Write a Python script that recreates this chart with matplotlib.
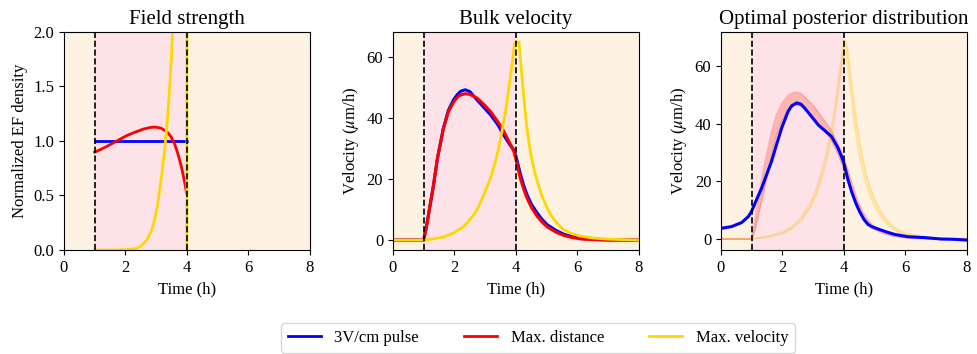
import matplotlib
matplotlib.use("Agg")
import matplotlib.pyplot as plt
from matplotlib.lines import Line2D

plt.rcParams['font.family'] = ['Liberation Serif', 'DejaVu Serif']
plt.rcParams['mathtext.fontset'] = 'stix'

# ---------------- data ----------------
titles = ["Field strength", "Bulk velocity", "Optimal posterior distribution"]
legend_labels = ["3V/cm pulse", "Max. distance", "Max. velocity"]
xticks = [0, 2, 4, 6, 8]
pulse_start, pulse_end = 1.0, 4.0

# Panel 1: normalized field
field_pulse_t = [1.0, 4.0]
field_pulse_v = [1.0, 1.0]
field_dist_t = [1.0, 1.25, 1.49, 1.75, 2.03, 2.3, 2.58, 2.8, 2.96, 3.15, 3.34, 3.48, 3.61, 3.72, 3.83, 3.92, 3.99]
field_dist_v = [0.898, 0.93, 0.965, 1.005, 1.048, 1.08, 1.109, 1.124, 1.128, 1.118, 1.088, 1.04, 0.965, 0.87, 0.75, 0.63, 0.52]
field_vel_t = [1.0, 1.5, 2.0, 2.2, 2.36, 2.5, 2.69, 2.85, 2.96, 3.05, 3.12, 3.18, 3.23, 3.29, 3.34, 3.4, 3.45, 3.5, 3.53, 3.6, 3.8, 3.999, 4.0]
field_vel_v = [0.0, 0.0, 0.003, 0.008, 0.015, 0.035, 0.09, 0.18, 0.29, 0.42, 0.57, 0.69, 0.81, 0.96, 1.12, 1.33, 1.55, 1.8, 1.99, 2.6, 4.5, 8.0, 0.0]

# Panel 2: bulk velocity
vel_t = [0, 1.0, 1.1, 1.2, 1.32, 1.45, 1.64, 1.8, 1.97, 2.1, 2.2, 2.35, 2.5, 2.73, 2.95, 3.17, 3.4,
         3.6, 3.8, 3.93, 4.0, 4.08, 4.15, 4.25, 4.36, 4.5, 4.69, 4.85, 5.02, 5.3, 5.56, 5.8, 6.1, 6.5, 7.0, 8.0]
vel_pulse = [0, 0, 5, 11, 18.1, 27, 36.7, 42.5, 46, 47.8, 48.8, 49.3, 48.7, 46, 43.6, 41.1, 38,
             34.5, 31.3, 29.6, 27.5, 24.3, 21.4, 18, 14.9, 11.8, 8.9, 6.8, 5.0, 3.2, 1.9, 1.2, 0.5, 0.2, 0.05, 0]
vel_dist = [0, 0, 5, 11, 18.1, 27, 36.5, 42, 45.3, 46.9, 47.6, 48.0, 47.8, 46.6, 44.6, 42.2, 39,
            35.8, 31.8, 29.2, 26.5, 23.0, 20.0, 16.8, 13.8, 10.8, 7.8, 5.9, 4.3, 2.6, 1.5, 0.9, 0.4, 0.15, 0.04, 0]
vel_vel_t = [0, 1.0, 1.32, 1.64, 1.97, 2.3, 2.45, 2.63, 2.77, 2.9, 3.03, 3.17, 3.26, 3.35, 3.43, 3.5,
             3.58, 3.65, 3.71, 3.77, 3.82, 3.87, 3.92, 3.96, 4.1, 4.14, 4.18, 4.25, 4.3, 4.35, 4.41,
             4.47, 4.55, 4.63, 4.72, 4.8, 4.88, 4.97, 5.05, 5.13, 5.25, 5.35, 5.45, 5.56, 5.8, 6.1,
             6.5, 7.0, 8.0]
vel_vel_v = [0, 0, 0.4, 1.0, 2.3, 4.5, 6.1, 8.3, 10.7, 13.5, 16.7, 20.3, 23.2, 26.5, 29.8, 33.4,
             37.5, 41.5, 45.5, 49.8, 53.5, 57.5, 61.5, 64.6, 65, 60, 55.5, 47.6, 42.3, 37.5, 33,
             29, 25, 21.5, 18.5, 16, 13.6, 11.6, 9.8, 8.3, 6.6, 5.4, 4.3, 3.4, 2.2, 1.3,
             0.7, 0.3, 0.0]

# Panel 3: optimal posterior
post_t = [0, 0.34, 0.67, 0.89, 1.0, 1.15, 1.32, 1.48, 1.64, 1.8, 1.97, 2.18, 2.3, 2.46, 2.6, 2.73, 2.95,
          3.17, 3.4, 3.6, 3.81, 3.92, 4.0, 4.12, 4.25, 4.38, 4.51, 4.65, 4.78, 4.9, 5.0, 5.21, 5.43, 5.65,
          6.08, 6.62, 7.16, 7.6, 7.97]
post_pulse = [3.7, 4.3, 5.7, 7.8, 9.7, 13.5, 17.6, 22.2, 26.8, 32.5, 38.4, 44.2, 46.2, 47.2, 46.8, 45.3, 42.4,
              39.5, 37.4, 35.5, 31.5, 28.6, 26.2, 21.0, 16.4, 12.6, 9.5, 6.8, 5.1, 4.3, 3.9, 3.1, 2.3, 1.6,
              0.8, 0.5, 0.0, -0.1, -0.35]
band_red_t = [0, 1.0, 1.1, 1.2, 1.4, 1.64, 1.8, 2.0, 2.2, 2.4, 2.6, 2.8, 3.0, 3.2, 3.4, 3.6, 3.8, 4.0,
              4.2, 4.4, 4.6, 4.8, 5.0, 5.3, 5.6, 6.0, 6.5, 7.0, 8.0]
band_red_lo = [0, 0, 3, 7.5, 17, 29, 36, 41.5, 45, 46.5, 46, 44.5, 42.5, 40, 37, 34, 29.5, 24,
               17.5, 11.5, 7.5, 4.8, 3.3, 1.8, 1.0, 0.4, 0.15, 0.05, 0]
band_red_hi = [0, 0, 6.5, 13, 25, 37, 43, 47.5, 50, 51, 50.5, 48.5, 46.3, 43.5, 40.5, 37.5, 33, 28,
               21.5, 14.5, 9.5, 6.3, 4.3, 2.5, 1.5, 0.7, 0.3, 0.1, 0]
band_yel_t = [0, 1.0, 1.5, 2.0, 2.3, 2.6, 2.9, 3.1, 3.3, 3.45, 3.6, 3.7, 3.8, 3.88, 3.95, 4.0, 4.06,
              4.12, 4.2, 4.3, 4.41, 4.5, 4.6, 4.7, 4.85, 5.0, 5.2, 5.35, 5.49, 5.65, 5.8, 6.0, 6.5, 7.0, 8.0]
band_yel_lo = [0, 0, 0.6, 1.9, 3.6, 6.3, 11, 15.5, 22, 28, 36, 42.5, 50, 56.5, 62, 64.5, 65,
               60, 52, 43, 34.5, 29, 24, 19.8, 15, 11.3, 7.8, 5.8, 4.3, 3.1, 2.3, 1.6, 0.7, 0.25, 0.0]
band_yel_hi = [0, 0, 0.9, 2.4, 4.3, 7.3, 12.5, 17.5, 24.5, 31, 39.5, 46, 53.5, 60, 65.5, 68, 68.5,
               65.5, 58.5, 49.5, 40.5, 34.5, 28.5, 23.5, 18, 13.8, 9.6, 7.2, 5.5, 4.0, 3.0, 2.1, 1.0, 0.4, 0.05]

# ---------------- style ----------------
C_BLUE = 'blue'
C_RED = 'red'
C_YEL = 'gold'
BG_OUT = '#FEF2E2'
BG_IN = '#FDE3E8'

fig = plt.figure(figsize=(9.78, 3.54), dpi=100)
bottom, height = 0.2938, 0.6158
lefts = [0.0654, 0.4018, 0.7372]
width = 0.2515
axes = [fig.add_axes([l, bottom, width, height]) for l in lefts]

for ax in axes:
    ax.axvspan(0, 8, color=BG_OUT, zorder=0, lw=0)
    ax.axvspan(pulse_start, pulse_end, color=BG_IN, zorder=0.5, lw=0)
    ax.axvline(pulse_start, color='black', ls='--', lw=1.2, zorder=5)
    ax.axvline(pulse_end, color='black', ls='--', lw=1.2, zorder=5)
    ax.set_xlim(0, 8)
    ax.set_xticks(xticks)
    ax.set_xlabel("Time (h)", fontsize=12)
    ax.tick_params(labelsize=12)

# Panel 1
ax = axes[0]
ax.plot(field_pulse_t, field_pulse_v, color=C_BLUE, lw=2, zorder=2)
ax.plot(field_dist_t, field_dist_v, color=C_RED, lw=2, zorder=2)
ax.plot(field_vel_t, field_vel_v, color=C_YEL, lw=2, zorder=2)
ax.set_ylim(0, 2)
ax.set_yticks([0, 0.5, 1.0, 1.5, 2.0])
ax.set_ylabel("Normalized EF density", fontsize=12)
ax.set_title(titles[0], fontsize=15)

# Panel 2
ax = axes[1]
ax.plot(vel_t, vel_pulse, color=C_BLUE, lw=2.2, zorder=2)
ax.plot(vel_t, vel_dist, color=C_RED, lw=2.2, zorder=2)
ax.plot(vel_vel_t, vel_vel_v, color=C_YEL, lw=2, zorder=2)
ax.set_ylim(-3.25, 68.25)
ax.set_yticks([0, 20, 40, 60])
ax.set_ylabel(r"Velocity ($\mu$m/h)", fontsize=12)
ax.set_title(titles[1], fontsize=15)

# Panel 3
ax = axes[2]
ax.fill_between(band_red_t, band_red_lo, band_red_hi, color='salmon', alpha=0.45, lw=0, zorder=1)
ax.plot(band_red_t, band_red_lo, color='salmon', alpha=0.45, lw=1.2, zorder=1)
ax.plot(band_red_t, band_red_hi, color='salmon', alpha=0.45, lw=1.2, zorder=1)
ax.fill_between(band_yel_t, band_yel_lo, band_yel_hi, color=C_YEL, alpha=0.22, lw=0, zorder=1.2)
ax.plot(band_yel_t, band_yel_lo, color='orange', alpha=0.22, lw=1.2, zorder=1.2)
ax.plot(band_yel_t, band_yel_hi, color='orange', alpha=0.22, lw=1.2, zorder=1.2)
ax.plot(post_t, post_pulse, color=C_BLUE, lw=2.2, zorder=3)
ax.set_ylim(-3.8, 71.8)
ax.set_yticks([0, 20, 40, 60])
ax.set_ylabel(r"Velocity ($\mu$m/h)", fontsize=12)
ax.set_title(titles[2], fontsize=15)

handles = [Line2D([], [], color=c, lw=2) for c in (C_BLUE, C_RED, C_YEL)]
fig.legend(handles, legend_labels, loc='lower center', ncol=3, fontsize=12,
           bbox_to_anchor=(0.55, -0.02), columnspacing=2.7)

fig.savefig("out.png", dpi=100)
